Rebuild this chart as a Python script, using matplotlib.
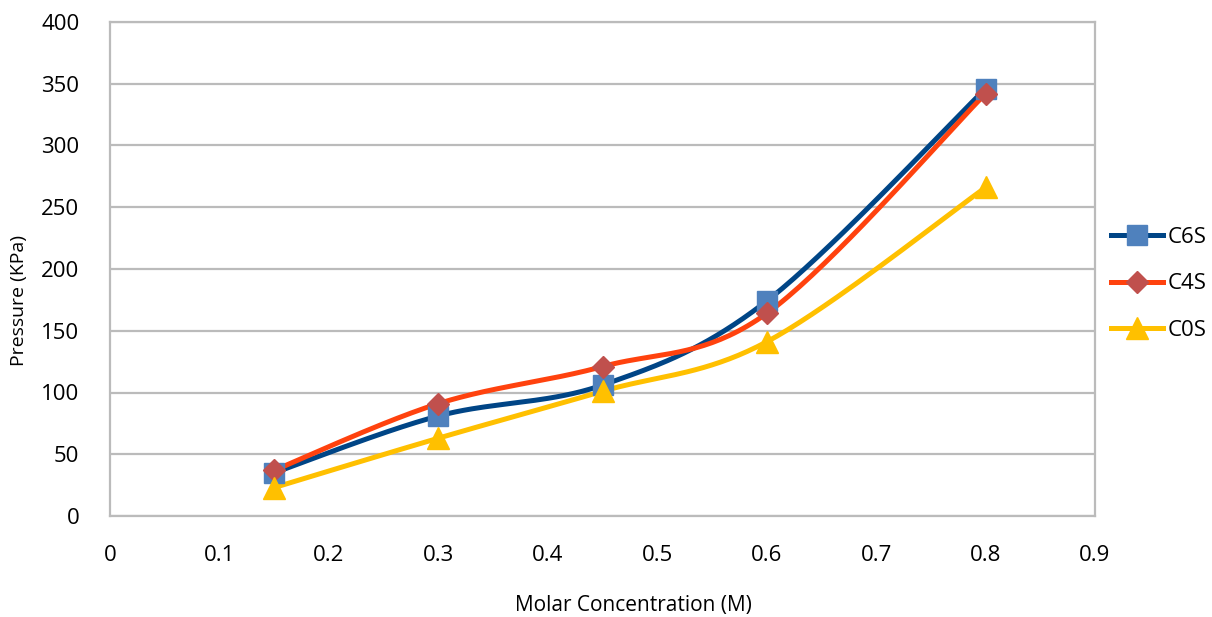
import numpy as np
import matplotlib.pyplot as plt

conc = [0.15, 0.3, 0.45, 0.6, 0.8]
c6s = [35, 81, 106, 174, 346]
c4s = [37, 91, 121, 164, 342]
c0s = [23, 63, 101, 141, 266]

series = [
    ("C6S", c6s, "#004586", "#4F81BD", "s", 14),
    ("C4S", c4s, "#FF420E", "#C0504D", "D", 11),
    ("C0S", c0s, "#FFC000", "#FFC000", "^", 16),
]


def smooth(x, y, n=40):
    # Catmull-Rom curve through the points, like Excel's smoothed lines
    x = np.asarray(x, float)
    y = np.asarray(y, float)
    px = np.concatenate([[x[0]], x, [x[-1]]])
    py = np.concatenate([[y[0]], y, [y[-1]]])
    xs, ys = [], []
    t = np.linspace(0, 1, n)
    for i in range(1, len(px) - 2):
        p0, p1, p2, p3 = [np.array([px[j], py[j]]) for j in range(i - 1, i + 3)]
        c1 = p1 + (p2 - p0) / 6
        c2 = p2 - (p3 - p1) / 6
        pts = ((1 - t) ** 3)[:, None] * p1 + (3 * (1 - t) ** 2 * t)[:, None] * c1 \
            + (3 * (1 - t) * t ** 2)[:, None] * c2 + (t ** 3)[:, None] * p2
        xs.extend(pts[:, 0])
        ys.extend(pts[:, 1])
    return xs, ys


plt.rcParams['font.family'] = ['Open Sans', 'DejaVu Sans']

W, H = 1212, 617
fig = plt.figure(figsize=(W / 100, H / 100), dpi=100)
ax = fig.add_axes([110 / W, 1 - 516 / H, 985 / W, 494 / H])

handles = []
for name, vals, lc, mc, mk, ms in series:
    sx, sy = smooth(conc, vals)
    ax.plot(sx, sy, color=lc, lw=3.6, solid_capstyle='round', zorder=3)
    ax.plot(conc, vals, ls='none', marker=mk, ms=ms, color=mc, mec=mc, zorder=4)
    h, = ax.plot([], [], color=lc, lw=3.6, marker=mk, ms=ms, mfc=mc, mec=mc)
    handles.append(h)

ax.set_xlim(0, 0.9)
ax.set_ylim(0, 400)
ax.set_xticks(np.arange(0, 0.91, 0.1))
ax.set_xticklabels(["0", "0.1", "0.2", "0.3", "0.4", "0.5", "0.6", "0.7", "0.8", "0.9"])
ax.set_yticks(np.arange(0, 401, 50))
ax.tick_params(length=0, labelsize=16, colors='#000000')
ax.tick_params(axis='x', pad=21)
ax.tick_params(axis='y', pad=22)
ax.grid(axis='y', color='#BBBBBB', lw=1.6)
ax.set_axisbelow(True)
for s in ax.spines.values():
    s.set_color('#BBBBBB')
    s.set_linewidth(1.6)

fig.text(633 / W, 1 - 606 / H, "Molar Concentration (M)", fontsize=15,
         ha='center', va='center')
fig.text(19 / W, 1 - 300 / H, "Pressure (KPa)", fontsize=14,
         rotation=90, ha='center', va='center')

fig.legend(handles, ["C6S", "C4S", "C0S"], loc='center left',
           bbox_to_anchor=(1111 / W, 1 - 284 / H), frameon=False, borderpad=0,
           borderaxespad=0, fontsize=16, handlelength=2.35, handletextpad=0.2,
           labelspacing=1.15)

fig.savefig("out.png", dpi=100)
